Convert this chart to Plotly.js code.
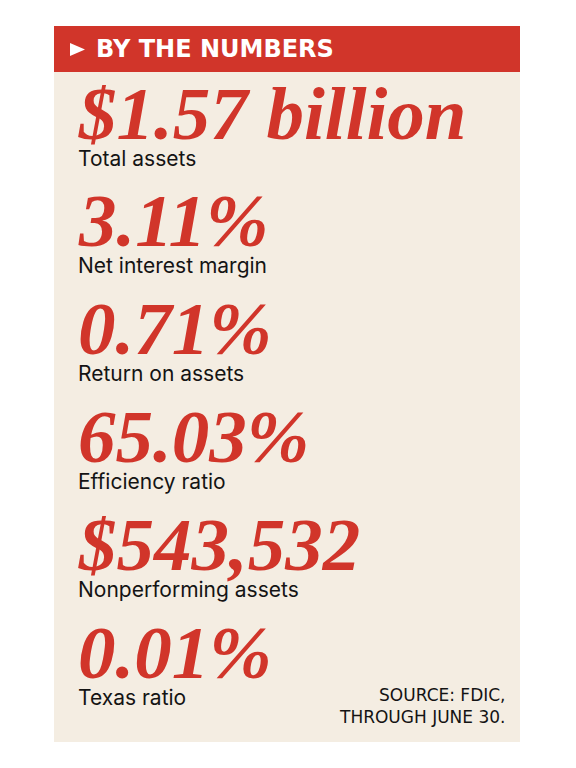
<!DOCTYPE html>
<html>
<head>
<meta charset="utf-8">
<script src="https://cdn.plot.ly/plotly-3.0.1.min.js"></script>
<style>
  html, body { margin: 0; padding: 0; background: #fff; }
  #chart { width: 576px; height: 768px; }
</style>
</head>
<body>
<div id="chart"></div>
<script>
// figures from the FDIC report, top to bottom
var values = ['$1.57 billion', '3.11%', '0.71%', '65.03%', '$543,532', '0.01%'];
var labels = ['Total assets', 'Net interest margin', 'Return on assets',
              'Efficiency ratio', 'Nonperforming assets', 'Texas ratio'];
var heading = 'BY THE NUMBERS';
var source = ['SOURCE: FDIC,', 'THROUGH JUNE 30.'];

var RED = '#d1352a';
var BEIGE = '#f4ede2';

// row index -> pixel: row 0 at y=158, 107.8px per row
var rowPx = 107.8, row0 = 158;
var yTop = -row0 / rowPx, yBot = (768 - row0) / rowPx;

// paper y from a pixel row
var py = function(p) { return 1 - p / 768; };

var annotations = [];
for (var i = 0; i < values.length; i++) {
    annotations.push({
        x: 76, y: i, xref: 'x', yref: 'y',
        text: values[i], showarrow: false,
        xanchor: 'left', yanchor: 'middle', yshift: 45,
        font: {family: 'Liberation Serif, serif', size: 75, color: RED,
               weight: 'bold', style: 'italic'}
    });
    annotations.push({
        x: 76, y: i, xref: 'x', yref: 'y',
        text: labels[i], showarrow: false,
        xanchor: 'left', yanchor: 'middle',
        font: {family: 'Inter, sans-serif', size: 21, color: '#141414'}
    });
}

annotations.push({
    x: 94, y: py(49), xref: 'x', yref: 'paper', yanchor: 'middle',
    text: heading, showarrow: false, xanchor: 'left',
    font: {family: 'DejaVu Sans, sans-serif', size: 24, color: '#ffffff', weight: 'bold'}
});
annotations.push({
    x: 508, y: 5, xref: 'x', yref: 'y', yshift: 14,
    text: source.join('<br>'), showarrow: false, xanchor: 'right', align: 'right',
    yanchor: 'top',
    font: {family: 'DejaVu Sans, sans-serif', size: 17, color: '#141414'}
});

var shapes = [
    {type: 'rect', xref: 'x', yref: 'paper', x0: 54, x1: 520,
     y0: py(26), y1: py(742), fillcolor: BEIGE, line: {width: 0}, layer: 'below'},
    {type: 'rect', xref: 'x', yref: 'paper', x0: 54, x1: 520,
     y0: py(26), y1: py(72), fillcolor: RED, line: {width: 0}, layer: 'below'},
    {type: 'path', xref: 'x', yref: 'paper',
     path: 'M 70 ' + py(43) + ' L 85 ' + py(49.5) + ' L 70 ' + py(56) + ' Z',
     fillcolor: '#ffffff', line: {width: 0}}
];

var layout = {
    width: 576, height: 768,
    margin: {l: 0, r: 0, t: 0, b: 0},
    paper_bgcolor: '#ffffff', plot_bgcolor: 'rgba(0,0,0,0)',
    xaxis: {range: [0, 576], visible: false, fixedrange: true},
    yaxis: {range: [yBot, yTop], visible: false, fixedrange: true},
    showlegend: false,
    shapes: shapes,
    annotations: annotations
};

Plotly.newPlot('chart', [], layout, {displayModeBar: false, staticPlot: true});
</script>
</body>
</html>
